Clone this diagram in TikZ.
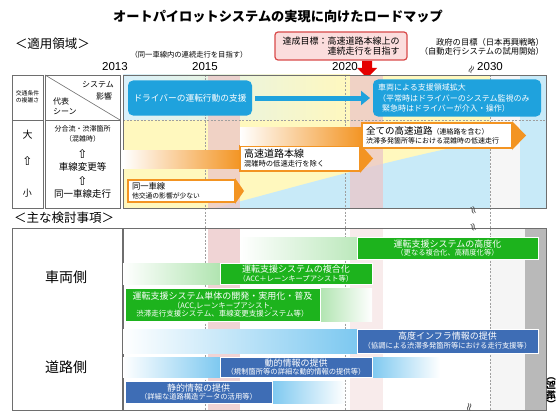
\documentclass[tikz,border=0pt]{standalone}
\usepackage{fontspec}
\newfontfamily\jp{Noto Sans CJK JP}
\newfontfamily\dv{DejaVu Sans}
\newfontfamily\lsans{Liberation Sans}
\usetikzlibrary{arrows.meta}
\newcommand\fz[1]{\fontsize{#1}{#1}\selectfont}
\definecolor{skyb}{HTML}{1FA2DD}
\definecolor{orng}{HTML}{F39422}
\definecolor{grn}{HTML}{1DB31D}
\definecolor{stb}{HTML}{3E6DB5}
\definecolor{pyel}{HTML}{FFF8BE}
\definecolor{pblu}{HTML}{C8EAF8}
\definecolor{ppink}{HTML}{EBC6C8}
\definecolor{redb}{HTML}{D94A4A}
\definecolor{redf}{HTML}{FBDDDD}
\definecolor{lsky}{HTML}{7CC8F0}
\definecolor{frm}{HTML}{6E6E6E}
\begin{document}
\begin{tikzpicture}[x=1pt,y=-1pt,
  every node/.style={inner sep=0pt,outer sep=0pt,font=\jp\fz{8}},
  ubox/.style={fill=skyb,rounded corners=5,text=white},
  obox/.style={draw=orng,line width=1.4,fill=white,align=left,inner xsep=4},
  gbox/.style={fill=grn,draw=white,line width=1,text=white,align=center},
  bbox/.style={fill=stb,draw=white,line width=1,text=white,align=center},
  frame/.style={draw=frm,line width=.6},
  vdash/.style={draw=gray!75,line width=.5,dash pattern=on 2pt off 1.5pt},
  brkmark/.style={font=\dv\fz{11},text=gray!60!black}
]
\useasboundingbox (0,0) rectangle (557,412);
\fill[white] (0,0) rectangle (557,412);

% ---------- header texts ----------
\node[font=\jp\bfseries\fz{13.2}] (title) at (278,16) {オートパイロットシステムの実現に向けたロードマップ};
\node[anchor=west,font=\jp\fz{12.5}] (h1) at (15,44) {＜適用領域＞};
\node[font=\jp\fz{7.3}] (goal1) at (189,55) {（同一車線内の連続走行を目指す）};
\node[draw=redb,fill=redf,line width=1.2,rounded corners=3,minimum width=132,minimum height=28,align=right,font=\jp\fz{9}] (goal2) at (341,46) {達成目標：高速道路本線上の\\[1pt]連続走行を目指す};
\node[align=right,anchor=north east,font=\jp\fz{8.3}] (gov) at (544,38) {政府の目標（日本再興戦略）\\[1.5pt]（自動走行システムの試用開始）};
\node[font=\lsans\fz{11.5}] (y13) at (115,67) {2013};
\node[font=\lsans\fz{11.5}] (y15) at (205,67) {2015};
\node[font=\lsans\fz{11.5}] (y20) at (345,67) {2020};
\node[font=\lsans\fz{11.5}] (y30) at (490,67) {2030};
\fill[red!90!black] (362,61) -- (372,61) -- (372,68) -- (377,68) -- (367,78) -- (357,68) -- (362,68) -- cycle;
\node[brkmark,rotate=60] (bk1) at (472,70) {≈};

% ---------- upper table backgrounds ----------
\shade[left color=pblu!70,right color=pyel] (123,75) rectangle (350,120);
\fill[pyel] (350,75) rectangle (490,120);
\fill[pyel] (123,120) rectangle (490,208);
\fill[pblu] (215,208) .. controls (300,186) and (420,150) .. (546,130) -- (546,208) -- cycle;
\fill[gray!7] (490,75) rectangle (520,208);
\fill[pblu] (520,75) rectangle (546,208);
\fill[ppink,opacity=.75] (208,75) rectangle (240,208);
\fill[ppink,opacity=.75] (350,75) rectangle (383,208);

% ---------- lower table backgrounds ----------
\fill[ppink,opacity=.75] (208,228) rectangle (240,410);
\fill[ppink,opacity=.35] (350,228) rectangle (383,410);
\fill[gray!8] (490,228) rectangle (525,410);
\fill[gray!55] (525,228) rectangle (546,410);

% dashed year lines
\draw[vdash] (205,75) -- (205,410);
\draw[vdash] (345,75) -- (345,410);
\draw[vdash] (490,75) -- (490,410);
\draw[vdash] (123,120) -- (546,120);

% ---------- frames ----------
\draw[frame] (12,75) rectangle (43,208);
\draw[frame] (45,75) rectangle (120,208);
\draw[frame] (123,75) rectangle (546,208);
\draw[frame] (12,120) -- (43,120);
\draw[frame] (45,120) -- (120,120);
\draw[frame] (45,75) -- (120,120);
\draw[frame] (12,228) rectangle (122,410);
\draw[frame] (123,228) rectangle (546,410);

% ---------- left columns ----------
\node[align=center,font=\jp\fz{5.8}] (c1h) at (27.5,97) {交通条件\\[1pt]の複雑さ};
\node[font=\jp\fz{10}] (big) at (27.5,135) {大};
\node[font=\dv\fz{12}] (up1) at (27.5,161) {⇧};
\node[font=\jp\fz{9}] (small) at (27.5,193) {小};
\node[anchor=west,font=\jp\fz{8}] (sys) at (82,85) {システム};
\node[anchor=west,font=\jp\fz{8}] (eik) at (96,96) {影響};
\node[anchor=west,font=\jp\fz{8}] (dai) at (53,101) {代表};
\node[anchor=west,font=\jp\fz{8}] (scn) at (53,112) {シーン};
\node[font=\jp\fz{7}] (r1a) at (82.5,129) {分合流・渋滞箇所};
\node[font=\jp\fz{7}] (r1b) at (82.5,139) {（混雑時）};
\node[font=\dv\fz{12}] (up2) at (82.5,154) {⇧};
\node[font=\jp\fz{9.5}] (r2) at (82.5,167) {車線変更等};
\node[font=\dv\fz{12}] (up3) at (82.5,181) {⇧};
\node[font=\jp\fz{9.5}] (r3) at (82.5,194) {同一車線走行};

% ---------- upper blue boxes ----------
\node[ubox,minimum width=124,minimum height=35,font=\jp\fz{8.7}] (drv) at (190,98) {ドライバーの運転行動の支援};
\node[ubox,minimum width=168,minimum height=37,align=left,text width=158] (veh) at (457,98) {車両による支援領域拡大\\[3pt]（平常時はドライバーのシステム監視のみ\\[1.5pt]\hspace*{4pt}緊急時はドライバーが介入・操作）};
\draw[skyb,line width=5,-{Triangle[length=9pt,width=14pt]}] ([xshift=3pt]drv.east) -- ([xshift=-3pt]veh.west);

% ---------- orange arrows ----------
\node[obox,minimum width=107,minimum height=22,text width=99] (a1) at (181.5,191) {{\fz{8.3}同一車線}\\[1pt]{\fz{6.8}他交通の影響が少ない}};
\fill[orng] (235,178) -- (244,191) -- (235,204) -- cycle;
\shade[left color=white,right color=orng] (123,150) rectangle (241,168);
\node[obox,minimum width=120,minimum height=25,text width=112] (a2) at (300,158.5) {{\fz{10}高速道路本線}\\[1pt]{\fz{7.3}混雑時の低速走行を除く}};
\fill[orng] (360,144) -- (373,158.5) -- (360,173) -- cycle;
\shade[left color=white,right color=orng] (240,127) rectangle (363,145);
\node[obox,minimum width=150,minimum height=25,text width=142] (a3) at (437,135.5) {{\fz{9.5}全ての高速道路}{\fz{7}（連絡路を含む）}\\[1pt]{\fz{7}渋滞多発箇所等における混雑時の低速走行}};
\fill[orng] (512,121) -- (526,135.5) -- (512,150) -- cycle;

% ---------- between tables ----------
\node[brkmark,rotate=110] (bk2) at (474,210) {≈};
\node[brkmark,rotate=110] (bk3) at (474,227) {≈};
\node[anchor=west,font=\jp\fz{12.5}] (h2) at (14,218) {＜主な検討事項＞};

% ---------- lower left ----------
\node[font=\jp\fz{14}] (side1) at (66,277) {車両側};
\node[font=\jp\fz{14}] (side2) at (66,367) {道路側};

% ---------- green ----------
\shade[left color=white,right color=grn!30] (240,237) rectangle (358,259);
\shade[left color=white,right color=grn!35] (123,263) rectangle (221,284);
\shade[left color=grn!35,right color=white] (319,288) rectangle (372,321);
\node[gbox,minimum width=181,minimum height=22] (g1) at (447.5,248) {{\fz{9}運転支援システムの高度化}\\[0.5pt]{\fz{7.3}（更なる複合化、高精度化等）}};
\node[gbox,minimum width=152,minimum height=21] (g2) at (296,273.5) {{\fz{9}運転支援システムの複合化}\\[0.5pt]{\fz{7.3}（ACC＋レーンキープアシスト等）}};
\node[gbox,minimum width=195,minimum height=33] (g3) at (222.5,304.5) {{\fz{9}運転支援システム単体の開発・実用化・普及}\\[1pt]{\fz{7.5}（ACC,レーンキープアシスト,}\\[0.5pt]{\fz{7.5}渋滞走行支援システム、車線変更支援システム等）}};

% ---------- blue (road) ----------
\shade[left color=white,right color=lsky] (123,329) rectangle (358,353);
\shade[left color=white,right color=lsky] (123,357) rectangle (221,377);
\shade[left color=lsky,right color=white] (371,357) rectangle (440,377);
\shade[left color=lsky,right color=white] (271,381) rectangle (345,403);
\node[bbox,minimum width=181,minimum height=24] (b1) at (447.5,341) {{\fz{9}高度インフラ情報の提供}\\[1pt]{\fz{7.3}（協調による渋滞多発箇所等における走行支援等）}};
\node[bbox,minimum width=152,minimum height=20] (b2) at (296,367) {{\fz{9}動的情報の提供}\\{\fz{7.3}（規制箇所等の詳細な動的情報の提供等）}};
\node[bbox,minimum width=147,minimum height=22] (b3) at (198.5,392) {{\fz{9}静的情報の提供}\\[0.5pt]{\fz{7.3}（詳細な道路構造データの活用等）}};

\node[brkmark,rotate=80] (bk4) at (470,407) {≈};
\node[rotate=-90,font=\jp\bfseries\fz{9.5}] (bs) at (551,390) {（別紙）};
\end{tikzpicture}
\end{document}
